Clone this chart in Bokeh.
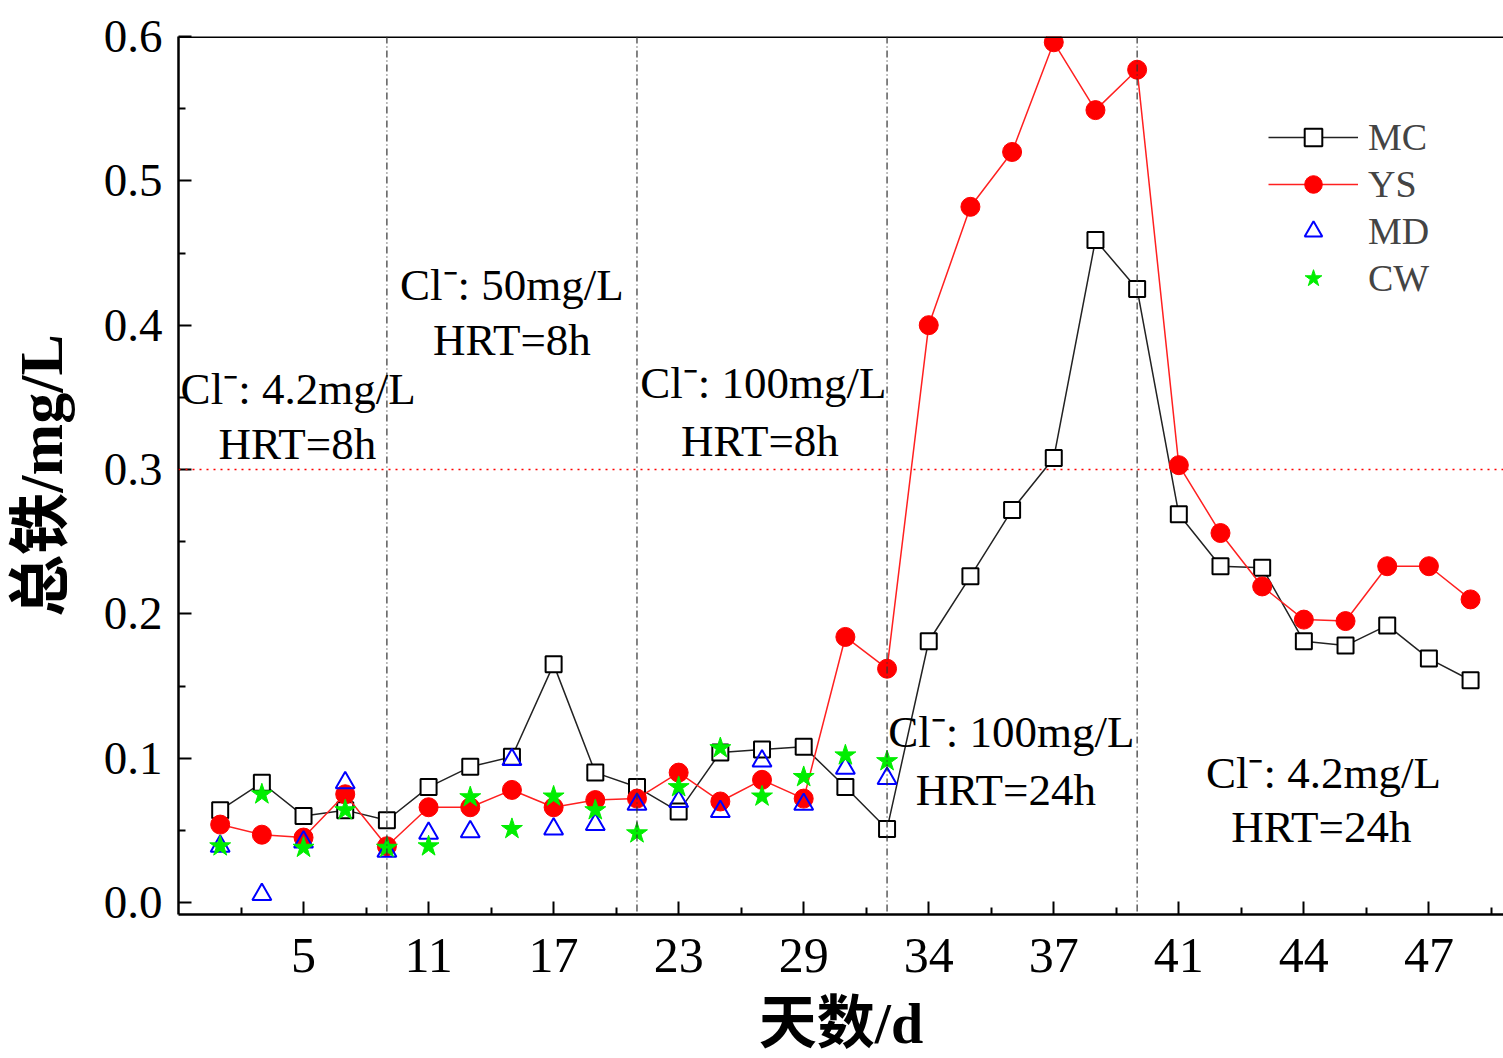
from bokeh.plotting import figure
from bokeh.models import (FixedTicker, Span, Legend, LegendItem, Range1d, Label,
                          PrintfTickFormatter)
from bokeh.embed import file_html
from bokeh.resources import INLINE

# sample number along the x axis and the day shown at each major tick
sample_no = list(range(1, 32))
tick_positions = [3, 6, 9, 12, 15, 18, 21, 24, 27, 30]
tick_labels = ["5", "11", "17", "23", "29", "34", "37", "41", "44", "47"]
y_ticks = [0.0, 0.1, 0.2, 0.3, 0.4, 0.5, 0.6]

# total iron (mg/L) for each pipe material
mc = [0.064, 0.083, 0.060, 0.064, 0.057, 0.080, 0.094, 0.101, 0.165, 0.090,
      0.080, 0.063, 0.104, 0.106, 0.108, 0.080, 0.051, 0.181, 0.226, 0.272,
      0.308, 0.459, 0.425, 0.269, 0.233, 0.232, 0.181, 0.178, 0.192, 0.169,
      0.154]
ys = [0.054, 0.047, 0.045, 0.075, 0.039, 0.066, 0.066, 0.078, 0.066, 0.071,
      0.072, 0.090, 0.070, 0.085, 0.072, 0.184, 0.162, 0.400, 0.482, 0.520,
      0.596, 0.549, 0.577, 0.303, 0.256, 0.219, 0.196, 0.195, 0.233, 0.233,
      0.210]
md = [0.039, 0.0055, 0.042, 0.083, 0.0355, 0.048, 0.049, 0.099, 0.051, 0.054,
      0.068, 0.070, 0.063, 0.098, 0.068, 0.093, 0.086]
cw = [0.039, 0.075, 0.038, 0.064, 0.038, 0.039, 0.073, 0.051, 0.0735, 0.064,
      0.048, 0.080, 0.107, 0.0735, 0.087, 0.102, 0.098]

# phase boundaries (sample number) and the iron limit
phase_bounds = [5, 11, 17, 23]
iron_limit = 0.3

SERIF = "Liberation Serif"
LABEL_FONT = "'Liberation Serif', 'Noto Sans CJK SC'"

p = figure(width=1503, height=1058, output_backend="svg", toolbar_location=None,
           x_range=Range1d(0, 31.79), y_range=Range1d(-0.0083, 0.6),
           min_border_left=178, min_border_top=36, min_border_bottom=143,
           min_border_right=0)
p.background_fill_color = "white"
p.border_fill_color = "white"
p.outline_line_color = None
p.xgrid.visible = False
p.ygrid.visible = False

# axes
p.xaxis.ticker = FixedTicker(
    ticks=tick_positions,
    minor_ticks=[t - 1.5 for t in tick_positions] + [tick_positions[-1] + 1.5])
p.xaxis.major_label_overrides = {t: l for t, l in zip(tick_positions, tick_labels)}
p.yaxis.ticker = FixedTicker(ticks=y_ticks,
                             minor_ticks=[round(v + 0.05, 2) for v in y_ticks[:-1]])
p.yaxis.formatter = PrintfTickFormatter(format="%.1f")

for ax in (p.xaxis[0], p.yaxis[0]):
    ax.axis_line_width = 2.5
    ax.axis_line_color = "black"
    ax.major_tick_in = 13
    ax.major_tick_out = 0
    ax.minor_tick_in = 7
    ax.minor_tick_out = 0
    ax.major_tick_line_width = 2
    ax.minor_tick_line_width = 2
    ax.major_label_text_font = SERIF
    ax.major_label_text_color = "black"
    ax.axis_label_text_font = LABEL_FONT
    ax.axis_label_text_font_style = "bold"
    ax.axis_label_text_color = "black"

p.xaxis.major_label_text_font_size = "50px"
p.yaxis.major_label_text_font_size = "47px"
p.xaxis.major_label_standoff = 24
p.yaxis.major_label_standoff = 16

p.xaxis.axis_label = "天数/d"
p.yaxis.axis_label = "总铁/mg/L"
p.xaxis.axis_label_text_font_size = "58px"
p.yaxis.axis_label_text_font_size = "62px"
p.xaxis.axis_label_standoff = 16
p.yaxis.axis_label_standoff = 26

# top frame line
p.add_layout(Span(location=0.6, dimension="width", line_color="black", line_width=3))

# phase separators and iron limit
for b in phase_bounds:
    p.add_layout(Span(location=b, dimension="height", line_color="#333333",
                      line_width=1.2, line_dash="7 3 1 3"))
p.add_layout(Span(location=iron_limit, dimension="width", line_color="#ff0000",
                  line_width=1.5, line_dash="2 5"))

# series
mc_line = p.line(sample_no, mc, line_color="#222222", line_width=1.5)
mc_pts = p.scatter(sample_no, mc, marker="square", size=16, fill_color="white",
                   line_color="black", line_width=2)
ys_line = p.line(sample_no, ys, line_color="#ff2020", line_width=1.5)
ys_pts = p.scatter(sample_no, ys, marker="circle", size=19, fill_color="#ff0000",
                   line_color="#ff0000")
md_pts = p.scatter(sample_no[:len(md)], md, marker="triangle", size=19,
                   fill_color=None, line_color="#0000ff", line_width=2)
cw_pts = p.scatter(sample_no[:len(cw)], cw, marker="star", size=22,
                   fill_color="#00ee00", line_color="#00ee00")

# phase annotations
phase_notes = [
    (2.87, 0.356, "Cl⁻: 4.2mg/L"), (2.85, 0.318, "HRT=8h"),
    (8.0, 0.428, "Cl⁻: 50mg/L"), (8.0, 0.390, "HRT=8h"),
    (14.03, 0.360, "Cl⁻: 100mg/L"), (13.95, 0.320, "HRT=8h"),
    (19.98, 0.118, "Cl⁻: 100mg/L"), (19.85, 0.078, "HRT=24h"),
    (27.47, 0.090, "Cl⁻: 4.2mg/L"), (27.42, 0.052, "HRT=24h"),
]
for x, y, t in phase_notes:
    p.add_layout(Label(x=x, y=y, text=t, text_align="center", text_baseline="middle",
                       text_font=SERIF, text_font_size="45px", text_color="black"))

legend = Legend(items=[
    LegendItem(label="MC", renderers=[mc_line, mc_pts]),
    LegendItem(label="YS", renderers=[ys_line, ys_pts]),
    LegendItem(label="MD", renderers=[md_pts]),
    LegendItem(label="CW", renderers=[cw_pts]),
], location=(1090, 614))
legend.border_line_color = None
legend.background_fill_alpha = 0
legend.label_text_font = SERIF
legend.label_text_font_size = "38px"
legend.glyph_width = 90
legend.glyph_height = 44
legend.label_height = 44
legend.spacing = 3
legend.padding = 0
legend.margin = 0
legend.label_standoff = 10
p.add_layout(legend)

open("out.html", "w").write(file_html(p, INLINE))
